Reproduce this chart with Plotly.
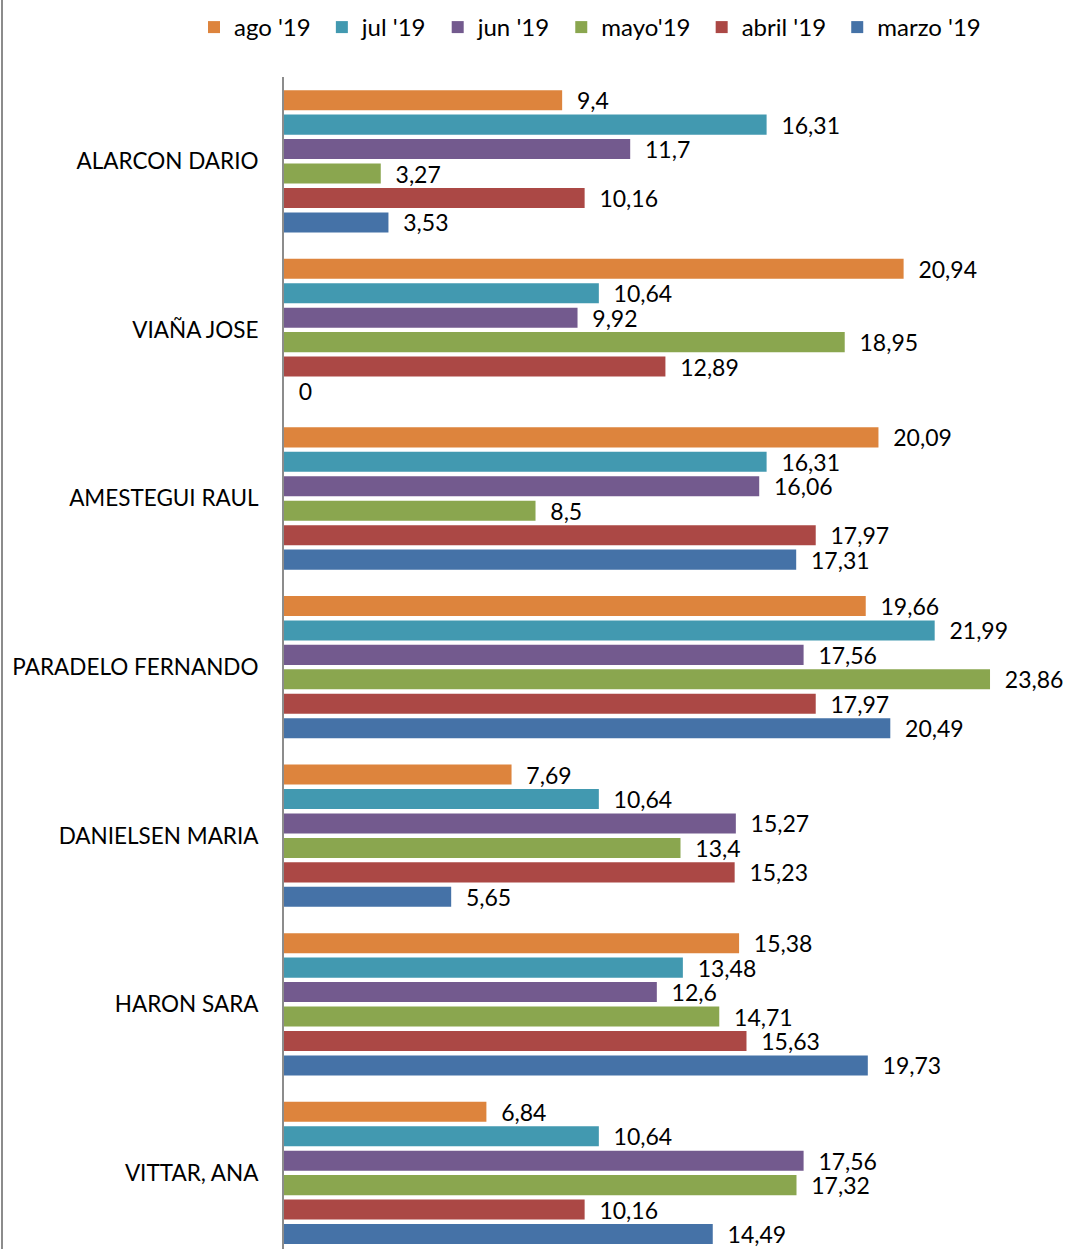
import plotly.graph_objects as go

categories = ["ALARCON DARIO", "VIAÑA JOSE", "AMESTEGUI RAUL", "PARADELO FERNANDO",
              "DANIELSEN MARIA", "HARON SARA", "VITTAR, ANA"]
series_names = ["ago '19", "jul '19", "jun '19", "mayo'19", "abril '19", "marzo '19"]
ago = [9.4, 20.94, 20.09, 19.66, 7.69, 15.38, 6.84]
jul = [16.31, 10.64, 16.31, 21.99, 10.64, 13.48, 10.64]
jun = [11.7, 9.92, 16.06, 17.56, 15.27, 12.6, 17.56]
mayo = [3.27, 18.95, 8.5, 23.86, 13.4, 14.71, 17.32]
abril = [10.16, 12.89, 17.97, 17.97, 15.23, 15.63, 10.16]
marzo = [3.53, 0, 17.31, 20.49, 5.65, 19.73, 14.49]
colors = ["#DD843D", "#4299B0", "#735A8E", "#8AA64F", "#AB4845", "#4572A7"]

FONT = "Lato"
FS = 23

fig = go.Figure()
for name, vals, col in zip(series_names, [ago, jul, jun, mayo, abril, marzo], colors):
    fig.add_trace(go.Bar(
        y=categories, x=vals, name=name + "\u00a0", orientation="h",
        marker=dict(color=col, line=dict(width=0)),
        text=["\u00a0\u00a0" + f"{v:g}".replace(".", ",") for v in vals],
        textposition="outside", cliponaxis=False, constraintext="none",
        textfont=dict(family=FONT, size=FS, color="black"),
    ))

W, H = 1067, 1249
ml, mr, mt, mb = 284, 14, 77, 0
pw = W - ml - mr
ph = H - mt - mb
fig.update_layout(
    width=W, height=H,
    margin=dict(l=ml, r=mr, t=mt, b=mb),
    barmode="group", bargap=0.13, bargroupgap=0.18,
    plot_bgcolor="white", paper_bgcolor="white",
    font=dict(family=FONT, size=FS, color="black"),
    showlegend=True,
    legend=dict(orientation="h", x=(194 - ml) / pw, xanchor="left",
                y=1 + 27 / ph, yanchor="bottom",
                font=dict(family=FONT, size=24), itemwidth=30, traceorder="normal",
                bgcolor="rgba(0,0,0,0)"),
    xaxis=dict(range=[0, pw / 29.59], showgrid=False, showticklabels=False, zeroline=False,
               showline=False, ticks=""),
    yaxis=dict(type="category", range=[-0.5 + ph / 168.6, -0.5], showgrid=False,
               showline=True, linecolor="#8C8C8C", linewidth=2, ticks="",
               ticklabelstandoff=19, tickfont=dict(family=FONT, size=22.5)),
    shapes=[dict(type="line", xref="paper", yref="paper", x0=(2 - ml) / pw, x1=(2 - ml) / pw,
                 y0=0, y1=1 + mt / ph, line=dict(color="#8C8C8C", width=2))],
)
fig.write_html("out.html", post_script="document.body.style.margin='0';",
               config={"displayModeBar": False})
